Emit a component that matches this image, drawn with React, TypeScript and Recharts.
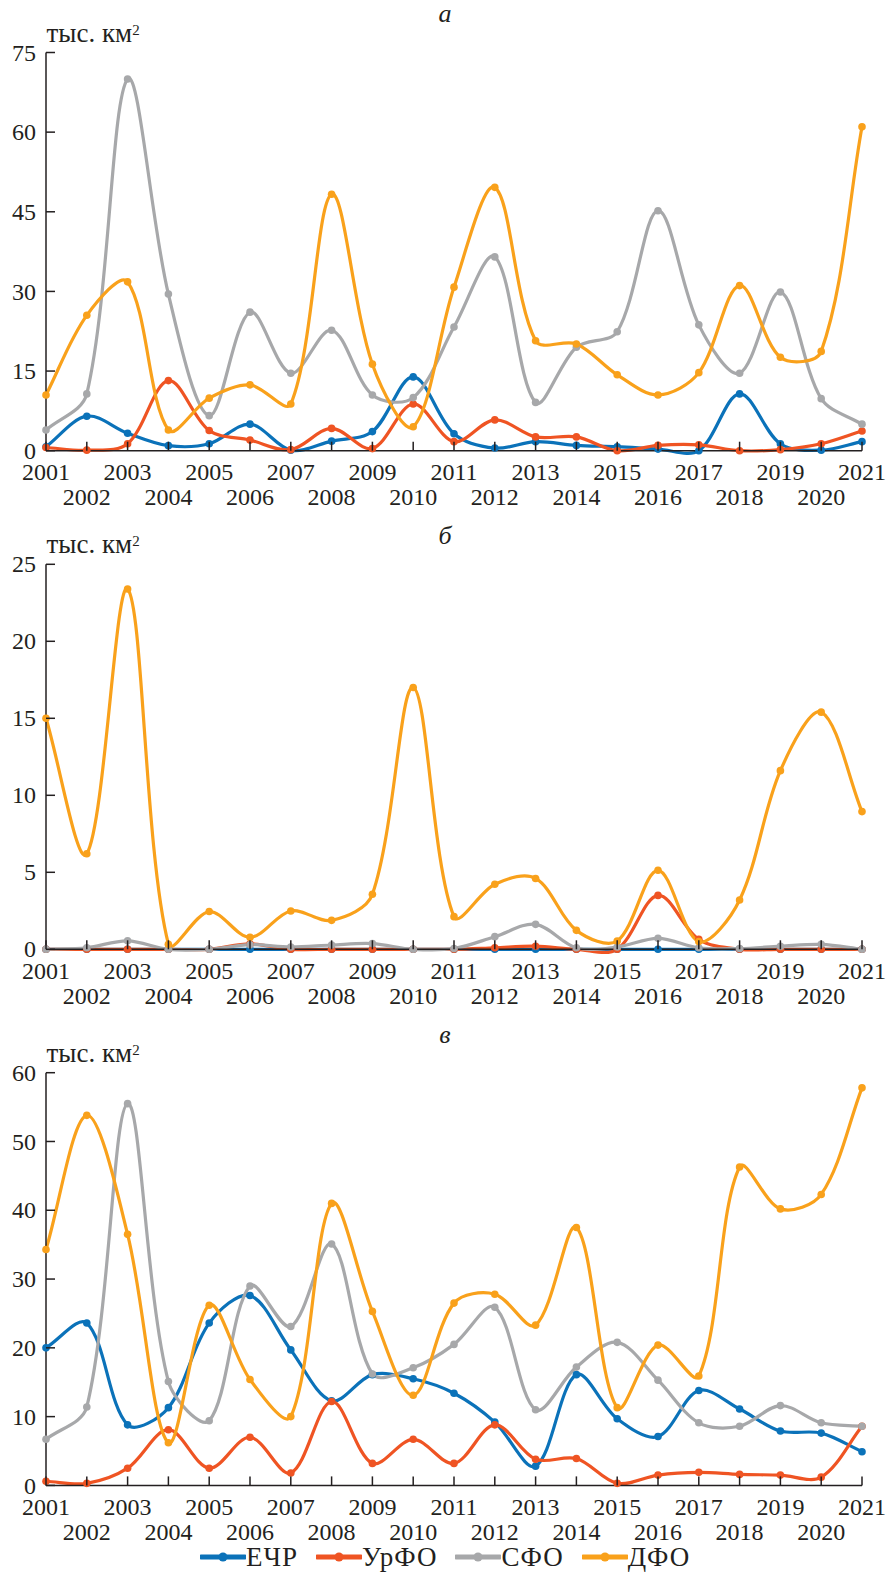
import React from "react";
import { LineChart, Line, XAxis, YAxis } from "recharts";

const years = [
  2001, 2002, 2003, 2004, 2005, 2006, 2007, 2008, 2009, 2010, 2011,
  2012, 2013, 2014, 2015, 2016, 2017, 2018, 2019, 2020, 2021,
];

// а
const echrA = [0.75, 6.5, 3.3, 0.95, 1.3, 5.0, 0.1, 1.8, 3.6, 13.9, 3.2, 0.5, 1.7, 1.0, 0.75, 0.3, 0.0, 10.7, 1.3, 0.1, 1.7];
const urfoA = [0.6, 0.1, 1.3, 13.2, 3.8, 2.0, 0.2, 4.2, 0.4, 8.8, 1.7, 5.8, 2.6, 2.6, 0.0, 1.0, 1.1, 0.0, 0.2, 1.3, 3.7];
const sfoA = [3.9, 10.7, 70.0, 29.5, 6.6, 26.1, 14.6, 22.7, 10.5, 10.0, 23.3, 36.5, 9.1, 19.5, 22.4, 45.2, 23.7, 14.6, 29.9, 9.8, 5.0];
const dfoA = [10.5, 25.5, 31.8, 3.9, 9.9, 12.4, 8.8, 48.3, 16.3, 4.5, 30.8, 49.6, 20.7, 20.1, 14.3, 10.5, 14.7, 31.1, 17.6, 18.7, 61.0];

// б
const echrB = [0, 0, 0, 0, 0, 0, 0, 0, 0, 0, 0, 0, 0, 0, 0, 0, 0, 0, 0, 0, 0];
const urfoB = [0, 0, 0, 0, 0, 0.35, 0, 0, 0, 0, 0, 0.1, 0.2, 0, 0, 3.5, 0.65, 0, 0, 0, 0];
const sfoB = [0, 0.1, 0.55, 0, 0, 0.3, 0.15, 0.28, 0.37, 0, 0.05, 0.82, 1.62, 0.1, 0.15, 0.71, 0.1, 0.05, 0.2, 0.32, 0];
const dfoB = [15.0, 6.2, 23.4, 0.33, 2.45, 0.78, 2.49, 1.88, 3.57, 17.0, 2.12, 4.22, 4.6, 1.23, 0.54, 5.13, 0.5, 3.2, 11.6, 15.4, 8.94];

// в
const echrC = [20.0, 23.6, 8.8, 11.3, 23.6, 27.6, 19.7, 12.3, 16.1, 15.5, 13.4, 9.2, 2.8, 16.1, 9.7, 7.1, 13.8, 11.1, 7.9, 7.6, 4.9];
const urfoC = [0.6, 0.3, 2.5, 8.1, 2.5, 7.0, 1.8, 12.2, 3.2, 6.7, 3.2, 8.8, 3.8, 3.9, 0.3, 1.5, 1.9, 1.6, 1.5, 1.2, 8.6];
const sfoC = [6.7, 11.4, 55.5, 15.1, 9.4, 29.0, 23.1, 35.1, 16.2, 17.1, 20.5, 25.9, 11.0, 17.2, 20.8, 15.3, 9.1, 8.6, 11.6, 9.1, 8.6];
const dfoC = [34.3, 53.8, 36.5, 6.2, 26.2, 15.4, 10.0, 41.0, 25.3, 13.1, 26.5, 27.8, 23.3, 37.5, 11.3, 20.4, 15.9, 46.3, 40.2, 42.3, 57.8];

const ticksA = [0, 15, 30, 45, 60, 75];
const ticksB = [0, 5, 10, 15, 20, 25];
const ticksC = [0, 10, 20, 30, 40, 50, 60];

const SERIES = [
  { key: "echr", name: "ЕЧР", color: "#0b72b9" },
  { key: "urfo", name: "УрФО", color: "#ef5423" },
  { key: "sfo", name: "СФО", color: "#a7a8aa" },
  { key: "dfo", name: "ДФО", color: "#f9a11b" },
];

const AXIS = "#231f20";
const FONT = "'Liberation Serif', 'DejaVu Serif', serif";
const W = 889;

const rows = (echr: number[], urfo: number[], sfo: number[], dfo: number[]) =>
  years.map((year, i) => ({ year, echr: echr[i], urfo: urfo[i], sfo: sfo[i], dfo: dfo[i] }));

const dist = (a: number[], b: number[]) => Math.hypot(b[0] - a[0], b[1] - a[1]);

// smoothed line through every point: cubic Bézier whose tangents are
// scaled by neighbouring chord lengths (keeps overshoot small after big jumps)
function smoothCurve(context: any) {
  let pts: number[][] = [];
  return {
    areaStart() {},
    areaEnd() {},
    lineStart() {
      pts = [];
    },
    point(x: number, y: number) {
      pts.push([+x, +y]);
    },
    lineEnd() {
      const n = pts.length;
      if (!n) return;
      context.moveTo(pts[0][0], pts[0][1]);
      for (let i = 0; i < n - 1; i++) {
        const p0 = pts[Math.max(i - 1, 0)];
        const p1 = pts[i];
        const p2 = pts[i + 1];
        const p3 = pts[Math.min(i + 2, n - 1)];
        const d01 = dist(p0, p1);
        const d12 = dist(p1, p2);
        const d23 = dist(p2, p3);
        const a = d01 + d12 > 0 ? d12 / (d01 + d12) / 3 : 0;
        const b = d12 + d23 > 0 ? d12 / (d12 + d23) / 3 : 0;
        context.bezierCurveTo(
          p1[0] + (p2[0] - p0[0]) * a,
          p1[1] + (p2[1] - p0[1]) * a,
          p2[0] - (p3[0] - p1[0]) * b,
          p2[1] - (p3[1] - p1[1]) * b,
          p2[0],
          p2[1]
        );
      }
    },
  };
}

function YTick({ x, y, payload }: any) {
  return (
    <g>
      <line x1={x} x2={x + 9} y1={y} y2={y} stroke={AXIS} strokeWidth={1.5} />
      <text x={x - 10} y={y} dy="0.34em" textAnchor="end" fontFamily={FONT} fontSize={24} fill={AXIS}>
        {payload.value}
      </text>
    </g>
  );
}

// odd years on the first row, even years on the second
function XTick({ x, y, payload }: any) {
  const odd = payload.value % 2 === 1;
  return (
    <g>
      <line x1={x} x2={x} y1={y} y2={y - 9} stroke={AXIS} strokeWidth={1.5} />
      <text x={x} y={y + (odd ? 29.5 : 54.5)} textAnchor="middle" fontFamily={FONT} fontSize={24} fill={AXIS}>
        {payload.value}
      </text>
    </g>
  );
}

interface PanelProps {
  data: ReturnType<typeof rows>;
  ticks: number[];
  top: number;
  height: number;
  plotTop: number;
  plotBottom: number;
}

function Panel({ data, ticks, top, height, plotTop, plotBottom }: PanelProps) {
  return (
    <div style={{ position: "absolute", left: 0, top }}>
      <LineChart
        width={W}
        height={height}
        data={data}
        margin={{ top: plotTop - top, right: 27, bottom: top + height - plotBottom - 60, left: 0 }}
      >
        <YAxis
          domain={[0, ticks[ticks.length - 1]]}
          ticks={ticks}
          interval={0}
          width={46}
          tickSize={0}
          tickMargin={0}
          tickLine={false}
          axisLine={{ stroke: AXIS, strokeWidth: 1.5 }}
          tick={<YTick />}
        />
        {SERIES.map((s) => (
          <Line
            key={s.key}
            dataKey={s.key}
            name={s.name}
            type={smoothCurve as any}
            stroke={s.color}
            strokeWidth={3.2}
            dot={{ r: 3.8, fill: s.color, stroke: s.color, strokeWidth: 0 }}
            activeDot={false}
            isAnimationActive={false}
          />
        ))}
        <XAxis
          dataKey="year"
          interval={0}
          height={60}
          tickSize={0}
          tickMargin={0}
          tickLine={false}
          axisLine={{ stroke: AXIS, strokeWidth: 1.5 }}
          tick={<XTick />}
        />
      </LineChart>
    </div>
  );
}

function Unit({ x, y }: { x: number; y: number }) {
  return (
    <text x={x} y={y} fontFamily={FONT} fontSize={27} fill={AXIS}>
      тыс. км
      <tspan fontSize={15} dy={-7}>2</tspan>
    </text>
  );
}

function Title({ y, label }: { y: number; label: string }) {
  return (
    <text x={445} y={y} textAnchor="middle" fontFamily={FONT} fontStyle="italic" fontSize={26} fill={AXIS}>
      {label}
    </text>
  );
}

function Legend() {
  return (
    <div
      style={{
        position: "absolute",
        left: 200,
        top: 1542,
        display: "flex",
        alignItems: "center",
        gap: 18,
        fontFamily: FONT,
        fontSize: 27,
        letterSpacing: 1,
        lineHeight: "30px",
        color: AXIS,
      }}
    >
      {SERIES.map((s) => (
        <div key={s.key} style={{ display: "flex", alignItems: "center" }}>
          <svg width={46} height={14}>
            <line x1={1} x2={45} y1={7} y2={7} stroke={s.color} strokeWidth={5} strokeLinecap="round" />
            <circle cx={23} cy={7} r={4.5} fill={s.color} />
          </svg>
          <span>{s.name}</span>
        </div>
      ))}
    </div>
  );
}

export default function App() {
  return (
    <div style={{ position: "absolute", left: 0, top: 0, width: W, height: 1581, background: "#fff" }}>
      <Panel data={rows(echrA, urfoA, sfoA, dfoA)} ticks={ticksA} top={0} height={515} plotTop={52.5} plotBottom={450.7} />
      <Panel data={rows(echrB, urfoB, sfoB, dfoB)} ticks={ticksB} top={515} height={515} plotTop={564.3} plotBottom={949.3} />
      <Panel data={rows(echrC, urfoC, sfoC, dfoC)} ticks={ticksC} top={1030} height={520} plotTop={1072.7} plotBottom={1485.4} />
      <svg width={W} height={1581} style={{ position: "absolute", left: 0, top: 0, pointerEvents: "none" }}>
        <Title y={22} label="а" />
        <Title y={544} label="б" />
        <Title y={1043} label="в" />
        <Unit x={46.5} y={41.7} />
        <Unit x={46.5} y={553.3} />
        <Unit x={46.5} y={1061.7} />
      </svg>
      <Legend />
    </div>
  );
}
